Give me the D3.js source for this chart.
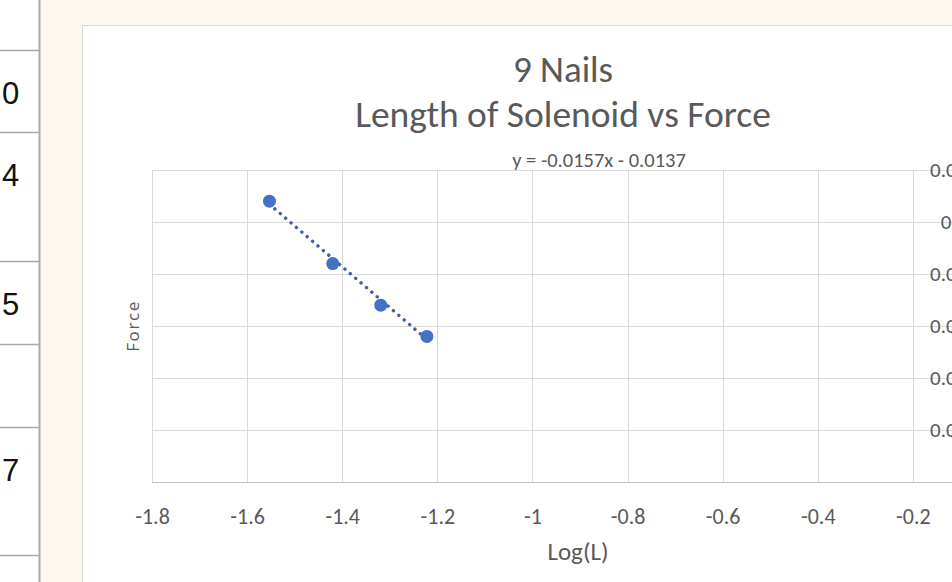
<!DOCTYPE html>
<html>
<head>
<meta charset="utf-8">
<script src="https://cdn.jsdelivr.net/npm/d3@7"></script>
<style>
  body { margin: 0; background: #fef9ef; overflow: hidden; }
  svg { display: block; }
</style>
</head>
<body>
<svg id="chart" width="952" height="582"></svg>
<script>
// data
const logL = [-1.553, -1.420, -1.319, -1.222];
const force = [0.0108, 0.0084, 0.0068, 0.0056];
const xTicks = [-1.8, -1.6, -1.4, -1.2, -1, -0.8, -0.6, -0.4, -0.2, 0];
const yTicks = [0, 0.002, 0.004, 0.006, 0.008, 0.01, 0.012];
const trendSlope = -0.0157;
const trendIntercept = -0.0137;
const titleLines = ['9 Nails', 'Length of Solenoid vs Force'];
const cellValues = ['0', '4', '5', '', '7', ''];

const W = 952, H = 582;
const svg = d3.select('#chart');
const excelFont = 'Carlito, Calibri, Lato, sans-serif';
const textGrey = '#595959';

// spreadsheet strip on the left
const rowEdges = [50, 132, 261, 344, 427, 555, 640];
svg.append('rect').attr('x', 0).attr('y', 0).attr('width', 39).attr('height', H).attr('fill', '#fff');
const cells = svg.append('g').attr('class', 'cells');
cellValues.forEach((v, i) => {
  cells.append('line')
    .attr('x1', 0).attr('x2', 39)
    .attr('y1', rowEdges[i] + 0.5).attr('y2', rowEdges[i] + 0.5)
    .attr('stroke', '#a9a9a9').attr('stroke-width', 1.5);
  if (v) {
    cells.append('text')
      .attr('x', 2).attr('y', rowEdges[i] + 54)
      .style('font', '31px "Liberation Sans", Arial, sans-serif')
      .attr('fill', '#111')
      .text(v);
  }
});
svg.append('line').attr('x1', 39.5).attr('x2', 39.5).attr('y1', 0).attr('y2', H)
  .attr('stroke', '#a9a9a9').attr('stroke-width', 2);

// chart area
svg.append('rect')
  .attr('x', 82.5).attr('y', 25.5).attr('width', 1000).attr('height', 700)
  .attr('fill', '#fff').attr('stroke', '#d9d9d9');

const plot = {left: 152, right: 1008, top: 170, bottom: 482};

const x = d3.scaleLinear().domain([-1.8, 0]).range([plot.left, plot.right]);
const y = d3.scaleLinear().domain([0, 0.012]).range([plot.bottom, plot.top]);

// gridlines
const grid = svg.append('g').attr('class', 'grid');
grid.selectAll('line.v').data(xTicks).join('line')
  .attr('class', 'v')
  .attr('x1', d => Math.round(x(d)) + 0.5).attr('x2', d => Math.round(x(d)) + 0.5)
  .attr('y1', plot.top).attr('y2', plot.bottom)
  .attr('stroke', '#d9d9d9');
grid.selectAll('line.h').data(yTicks.filter(d => d > 0)).join('line')
  .attr('class', 'h')
  .attr('x1', plot.left).attr('x2', plot.right)
  .attr('y1', d => Math.round(y(d)) + 0.5).attr('y2', d => Math.round(y(d)) + 0.5)
  .attr('stroke', '#d9d9d9');

// x axis, plain hyphen minus like Excel
const xAxis = d3.axisBottom(x).tickValues(xTicks.slice(0, -1)).tickSize(0).tickPadding(26)
  .tickFormat(d => String(d));
const gx = svg.append('g').attr('transform', `translate(0,${plot.bottom})`).call(xAxis);
gx.select('.domain').attr('stroke', '#bfbfbf').attr('d', `M${plot.left},0.5H${plot.right}`);
gx.selectAll('text').style('font', `22px ${excelFont}`).attr('fill', textGrey);

// y axis sits at x = 0
const yAxis = d3.axisLeft(y).tickValues(yTicks).tickSize(0).tickPadding(30)
  .tickFormat(d => d === 0 ? '0' : String(+d.toFixed(3)));
const gy = svg.append('g').attr('transform', `translate(${x(0)},0)`).call(yAxis);
gy.select('.domain').remove();
gy.selectAll('text').style('font', `21px ${excelFont}`).attr('fill', textGrey);

// trendline over the data range
const xExt = d3.extent(logL);
svg.append('line')
  .attr('x1', x(xExt[0])).attr('y1', y(trendSlope * xExt[0] + trendIntercept))
  .attr('x2', x(xExt[1])).attr('y2', y(trendSlope * xExt[1] + trendIntercept))
  .attr('stroke', '#43609f').attr('stroke-width', 3.4)
  .attr('stroke-linecap', 'round').attr('stroke-dasharray', '0.1 7');

// points
svg.append('g').selectAll('circle').data(logL).join('circle')
  .attr('cx', d => x(d)).attr('cy', (d, i) => y(force[i])).attr('r', 6.5)
  .attr('fill', '#4472c4');

// titles
const midChart = 563;
svg.append('text').attr('x', midChart).attr('y', 82).attr('text-anchor', 'middle')
  .style('font', `37px ${excelFont}`).attr('fill', textGrey).text(titleLines[0]);
svg.append('text').attr('x', midChart).attr('y', 127).attr('text-anchor', 'middle')
  .style('font', `37.5px ${excelFont}`).attr('fill', textGrey).text(titleLines[1]);

svg.append('text').attr('x', 599).attr('y', 167).attr('text-anchor', 'middle')
  .style('font', `20.5px ${excelFont}`).attr('fill', textGrey)
  .text(`y = ${trendSlope}x - ${Math.abs(trendIntercept)}`);

svg.append('text').attr('x', 578).attr('y', 560).attr('text-anchor', 'middle')
  .style('font', `25px ${excelFont}`).attr('fill', textGrey).text('Log(L)');

svg.append('text')
  .attr('transform', `translate(139,326) rotate(-90)`).attr('text-anchor', 'middle')
  .style('font', '17px "Open Sans", sans-serif').style('letter-spacing', '1.6px')
  .attr('fill', textGrey).text('Force');
</script>
</body>
</html>
